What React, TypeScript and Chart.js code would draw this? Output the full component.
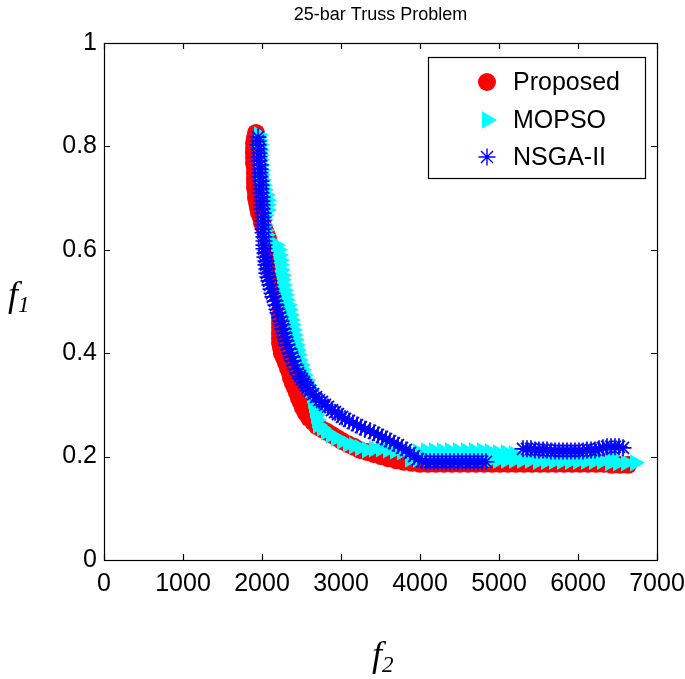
import React, { useEffect, useRef } from "react";
import { Chart, registerables } from "chart.js";

Chart.register(...registerables);

const title = "25-bar Truss Problem";
const seriesNames = ["Proposed", "MOPSO", "NSGA-II"];
const xTicks = [0, 1000, 2000, 3000, 4000, 5000, 6000, 7000];
const yTicks = [0, 0.2, 0.4, 0.6, 0.8, 1];

const proposedF2 = [1924, 1911, 1899, 1899, 1899, 1899, 1899, 1911, 1911, 1911, 1911, 1911, 1924, 1924, 1937, 1949, 1962, 1987, 2000, 2025, 2051, 2076, 2089, 2101, 2114, 2127, 2139, 2152, 2177, 2190, 2215, 2228, 2241, 2241, 2241, 2241, 2241, 2228, 2228, 2228, 2228, 2228, 2228, 2241, 2253, 2279, 2304, 2329, 2354, 2367, 2392, 2418, 2443, 2468, 2494, 2519, 2557, 2595, 2646, 2696, 2759, 2823, 2886, 2949, 3013, 3089, 3165, 3240, 3329, 3418, 3506, 3595, 3696, 3797, 3899, 4000, 4101, 4203, 4304, 4405, 4506, 4608, 4709, 4810, 4911, 5013, 5114, 5215, 5316, 5418, 5519, 5620, 5721, 5823, 5924, 6025, 6127, 6228, 6329, 6430, 6532, 6633];
const proposedF1 = [0.826, 0.816, 0.807, 0.797, 0.787, 0.778, 0.768, 0.758, 0.749, 0.739, 0.729, 0.720, 0.710, 0.700, 0.691, 0.681, 0.671, 0.662, 0.652, 0.642, 0.633, 0.623, 0.613, 0.603, 0.594, 0.584, 0.574, 0.565, 0.555, 0.545, 0.536, 0.526, 0.516, 0.507, 0.497, 0.487, 0.478, 0.468, 0.458, 0.449, 0.439, 0.429, 0.420, 0.410, 0.400, 0.391, 0.381, 0.371, 0.362, 0.352, 0.342, 0.333, 0.323, 0.313, 0.304, 0.294, 0.284, 0.275, 0.267, 0.259, 0.253, 0.248, 0.242, 0.236, 0.230, 0.224, 0.219, 0.213, 0.209, 0.205, 0.201, 0.197, 0.193, 0.190, 0.188, 0.186, 0.186, 0.186, 0.186, 0.186, 0.186, 0.186, 0.186, 0.186, 0.186, 0.186, 0.186, 0.186, 0.186, 0.186, 0.186, 0.186, 0.186, 0.186, 0.186, 0.186, 0.186, 0.186, 0.186, 0.184, 0.184, 0.184];

const mopsoF2 = [1962, 1962, 1975, 1975, 1975, 1975, 1987, 1987, 1987, 2000, 2013, 2025, 2051, 2063, 2063, 2063, 2038, 2025, 2025, 2038, 2051, 2076, 2177, 2203, 2215, 2228, 2228, 2241, 2253, 2253, 2266, 2279, 2291, 2304, 2329, 2342, 2354, 2367, 2380, 2392, 2405, 2418, 2430, 2443, 2456, 2468, 2494, 2506, 2532, 2557, 2582, 2608, 2633, 2646, 2658, 2671, 2684, 2696, 2709, 2759, 2810, 2873, 2937, 3013, 3089, 3165, 3240, 3329, 3418, 3506, 3595, 3684, 3772,
  3873, 3975, 4076, 4177, 4278, 4380, 4481, 4582, 4684, 4785, 4886, 4987, 5089, 5190, 5291, 5392, 5494, 5595, 5696, 5797, 5899, 6000, 6101, 6203, 6304, 6405, 6506, 6608, 6722,
  3873, 3975, 4076, 4177, 4278, 4380, 4481, 4582, 4684, 4785, 4886, 4987, 5089, 5190, 5392, 5595, 5797, 6000, 6203, 6405];
const mopsoF1 = [0.822, 0.812, 0.803, 0.793, 0.783, 0.774, 0.764, 0.754, 0.745, 0.735, 0.725, 0.716, 0.706, 0.696, 0.687, 0.677, 0.667, 0.658, 0.648, 0.638, 0.629, 0.619, 0.609, 0.600, 0.590, 0.580, 0.571, 0.561, 0.551, 0.542, 0.532, 0.522, 0.513, 0.503, 0.493, 0.484, 0.474, 0.464, 0.455, 0.445, 0.435, 0.426, 0.416, 0.406, 0.397, 0.387, 0.377, 0.368, 0.358, 0.348, 0.338, 0.329, 0.319, 0.309, 0.300, 0.290, 0.280, 0.271, 0.261, 0.255, 0.248, 0.242, 0.236, 0.230, 0.224, 0.221, 0.217, 0.213, 0.215, 0.215, 0.213, 0.211, 0.209,
  0.195, 0.195, 0.195, 0.195, 0.195, 0.195, 0.193, 0.193, 0.193, 0.193, 0.193, 0.193, 0.193, 0.193, 0.193, 0.193, 0.191, 0.191, 0.191, 0.191, 0.191, 0.191, 0.191, 0.191, 0.191, 0.188, 0.188, 0.188, 0.188,
  0.209, 0.209, 0.211, 0.211, 0.211, 0.211, 0.211, 0.211, 0.211, 0.211, 0.209, 0.207, 0.207, 0.205, 0.203, 0.203, 0.203, 0.203, 0.203, 0.201];

const nsgaF2 = [1949, 1949, 1949, 1962, 1962, 1962, 1962, 1975, 1975, 1975, 1975, 1987, 1987, 1987, 1987, 2000, 2000, 2000, 2000, 2013, 2013, 2013, 2013, 2013, 2013, 2025, 2025, 2025, 2025, 2038, 2038, 2051, 2051, 2063, 2063, 2076, 2089, 2101, 2114, 2127, 2139, 2165, 2177, 2190, 2203, 2228, 2241, 2253, 2266, 2279, 2291, 2304, 2316, 2342, 2354, 2380, 2392, 2418, 2430, 2456, 2481, 2506, 2532, 2557, 2582, 2608, 2646, 2684, 2722, 2759, 2797, 2835, 2886, 2924, 2962, 3013, 3051, 3101, 3152, 3203, 3253, 3304, 3367, 3418, 3468, 3519, 3570, 3620, 3671, 3722, 3772, 3823, 3873, 3924, 3975, 4025,
  4076, 4127, 4177, 4228, 4278, 4329, 4380, 4430, 4481, 4532, 4582, 4633, 4684, 4734, 4785, 4835,
  5304, 5354, 5405, 5456, 5506, 5557, 5608, 5658, 5709, 5759, 5810, 5861, 5911, 5962, 6013, 6063, 6114, 6165, 6215, 6266, 6316, 6367, 6418, 6468, 6519, 6570];
const nsgaF1 = [0.818, 0.810, 0.803, 0.795, 0.787, 0.780, 0.772, 0.764, 0.756, 0.749, 0.741, 0.733, 0.725, 0.718, 0.710, 0.702, 0.694, 0.687, 0.679, 0.671, 0.663, 0.656, 0.648, 0.640, 0.633, 0.625, 0.617, 0.609, 0.602, 0.594, 0.586, 0.578, 0.571, 0.563, 0.555, 0.547, 0.540, 0.532, 0.524, 0.516, 0.509, 0.501, 0.493, 0.485, 0.478, 0.470, 0.462, 0.455, 0.447, 0.439, 0.431, 0.424, 0.416, 0.408, 0.400, 0.393, 0.385, 0.377, 0.369, 0.362, 0.356, 0.350, 0.344, 0.338, 0.333, 0.327, 0.321, 0.315, 0.309, 0.306, 0.300, 0.296, 0.290, 0.286, 0.282, 0.277, 0.273, 0.269, 0.265, 0.261, 0.257, 0.253, 0.250, 0.246, 0.242, 0.238, 0.234, 0.230, 0.226, 0.222, 0.217, 0.213, 0.207, 0.201, 0.195, 0.191,
  0.190, 0.190, 0.190, 0.190, 0.190, 0.190, 0.190, 0.190, 0.190, 0.190, 0.190, 0.190, 0.190, 0.190, 0.190, 0.190,
  0.215, 0.215, 0.215, 0.213, 0.213, 0.213, 0.213, 0.211, 0.211, 0.211, 0.211, 0.211, 0.211, 0.211, 0.211, 0.211, 0.213, 0.213, 0.213, 0.215, 0.217, 0.219, 0.219, 0.219, 0.219, 0.217];

const toPoints = (xs: number[], ys: number[]) => xs.map((x, i) => ({ x, y: ys[i] }));

const FONT = '"Liberation Sans", Arial, sans-serif';
const R_CIRCLE = 9;
const R_TRI = 10;
const R_STAR = 8.5;
const STAR_W = 1.7;

function drawMarker(ctx: CanvasRenderingContext2D, kind: string, x: number, y: number) {
  ctx.save();
  if (kind === "circle") {
    ctx.fillStyle = "#ff0000";
    ctx.beginPath();
    ctx.arc(x, y, R_CIRCLE, 0, Math.PI * 2);
    ctx.fill();
  } else if (kind === "triangle") {
    const r = R_TRI;
    ctx.fillStyle = "#00ffff";
    ctx.beginPath();
    let rad = Math.PI / 2;
    ctx.moveTo(x + Math.sin(rad) * r, y - Math.cos(rad) * r);
    rad += (2 * Math.PI) / 3;
    ctx.lineTo(x + Math.sin(rad) * r, y - Math.cos(rad) * r);
    rad += (2 * Math.PI) / 3;
    ctx.lineTo(x + Math.sin(rad) * r, y - Math.cos(rad) * r);
    ctx.closePath();
    ctx.fill();
  } else {
    const r = R_STAR;
    const d = r * Math.SQRT1_2;
    ctx.strokeStyle = "#0000ff";
    ctx.lineWidth = 1.4;
    ctx.beginPath();
    ctx.moveTo(x - r, y); ctx.lineTo(x + r, y);
    ctx.moveTo(x, y - r); ctx.lineTo(x, y + r);
    ctx.moveTo(x - d, y - d); ctx.lineTo(x + d, y + d);
    ctx.moveTo(x - d, y + d); ctx.lineTo(x + d, y - d);
    ctx.stroke();
  }
  ctx.restore();
}

const framePlugin = {
  id: "matlabFrame",
  afterDatasetsDraw(chart: any) {
    const { ctx, chartArea } = chart;
    const { left, right, top, bottom } = chartArea;
    const xs = chart.scales.x;
    const ys = chart.scales.y;
    ctx.save();
    ctx.strokeStyle = "#000";
    ctx.lineWidth = 1.2;
    ctx.strokeRect(Math.round(left) + 0.5, Math.round(top) + 0.5, Math.round(right - left), Math.round(bottom - top));
    const tl = 6;
    ctx.beginPath();
    xTicks.forEach((v) => {
      const px = Math.round(xs.getPixelForValue(v)) + 0.5;
      ctx.moveTo(px, bottom); ctx.lineTo(px, bottom - tl);
      ctx.moveTo(px, top); ctx.lineTo(px, top + tl);
    });
    yTicks.forEach((v) => {
      const py = Math.round(ys.getPixelForValue(v)) + 0.5;
      ctx.moveTo(left, py); ctx.lineTo(left + tl, py);
      ctx.moveTo(right, py); ctx.lineTo(right - tl, py);
    });
    ctx.stroke();

    // title
    ctx.fillStyle = "#000";
    ctx.font = `18px ${FONT}`;
    ctx.textAlign = "center";
    ctx.textBaseline = "middle";
    ctx.fillText(title, (left + right) / 2, 15);

    // legend box
    const bx = 428, by = 57, bw = 217, bh = 121;
    ctx.fillStyle = "#fff";
    ctx.fillRect(bx, by, bw, bh);
    ctx.lineWidth = 1.2;
    ctx.strokeRect(bx + 0.5, by + 0.5, bw, bh);
    const kinds = ["circle", "triangle", "star"];
    const rows = [82, 120, 157];
    ctx.font = `25px ${FONT}`;
    ctx.textBaseline = "middle";
    ctx.textAlign = "left";
    seriesNames.forEach((name, i) => {
      drawMarker(ctx, kinds[i], 487, rows[i]);
      ctx.fillStyle = "#000";
      ctx.fillText(name, 513, rows[i] + 1);
    });
    ctx.restore();
  },
};

export default function App() {
  const ref = useRef<HTMLCanvasElement | null>(null);
  useEffect(() => {
    document.body.style.margin = "0";
    const canvas = ref.current;
    if (!canvas) return;
    const chart = new Chart(canvas, {
      type: "scatter",
      data: {
        datasets: [
          {
            label: seriesNames[0],
            data: toPoints(proposedF2, proposedF1),
            pointStyle: "circle",
            pointRadius: R_CIRCLE,
            backgroundColor: "#ff0000",
            borderColor: "#ff0000",
            borderWidth: 0,
            order: 3,
          },
          {
            label: seriesNames[1],
            data: toPoints(mopsoF2, mopsoF1),
            pointStyle: "triangle",
            pointRotation: 90,
            pointRadius: R_TRI,
            backgroundColor: "#00ffff",
            borderColor: "#00ffff",
            borderWidth: 0,
            order: 2,
          },
          {
            label: seriesNames[2],
            data: toPoints(nsgaF2, nsgaF1),
            pointStyle: "star",
            pointRadius: R_STAR,
            backgroundColor: "#0000ff",
            borderColor: "#0000ff",
            borderWidth: STAR_W,
            order: 1,
          },
        ],
      },
      options: {
        responsive: false,
        animation: false,
        devicePixelRatio: 1,
        layout: { padding: { top: 43, left: 0, right: 28, bottom: 0 } },
        plugins: {
          legend: { display: false },
          tooltip: { enabled: false },
          title: { display: false },
        },
        scales: {
          x: {
            type: "linear",
            min: 0,
            max: 7000,
            afterBuildTicks: (s: any) => { s.ticks = xTicks.map((v) => ({ value: v })); },
            afterFit: (s: any) => { s.height = 119; s.paddingLeft = 0; s.paddingRight = 0; },
            grid: { display: false, drawTicks: false },
            border: { display: false },
            ticks: {
              color: "#000", padding: 9, maxRotation: 0, autoSkip: false,
              font: { family: FONT, size: 25 },
              callback: (v: any) => String(v),
            },
          },
          y: {
            type: "linear",
            min: 0,
            max: 1,
            afterBuildTicks: (s: any) => { s.ticks = yTicks.map((v) => ({ value: v })); },
            afterFit: (s: any) => { s.width = 104; s.paddingTop = 0; s.paddingBottom = 0; },
            grid: { display: false, drawTicks: false },
            border: { display: false },
            ticks: {
              color: "#000", padding: 7, autoSkip: false,
              font: { family: FONT, size: 25 },
              callback: (v: any) => String(Math.round(Number(v) * 10) / 10),
            },
          },
        },
      },
      plugins: [framePlugin],
    });
    return () => chart.destroy();
  }, []);

  const serif = '"Liberation Serif", "Times New Roman", serif';
  return (
    <div style={{ position: "fixed", left: 0, top: 0, width: 685, height: 679, background: "#fff" }}>
      <canvas ref={ref} width={685} height={679} style={{ display: "block" }} />
      <div style={{ position: "absolute", left: 8, top: 276, fontFamily: serif, fontStyle: "italic", fontSize: 36, lineHeight: 1, color: "#000" }}>
        f<sub style={{ fontSize: 23, verticalAlign: "-6px" }}>1</sub>
      </div>
      <div style={{ position: "absolute", left: 372, top: 636, fontFamily: serif, fontStyle: "italic", fontSize: 36, lineHeight: 1, color: "#000" }}>
        f<sub style={{ fontSize: 23, verticalAlign: "-6px" }}>2</sub>
      </div>
    </div>
  );
}
